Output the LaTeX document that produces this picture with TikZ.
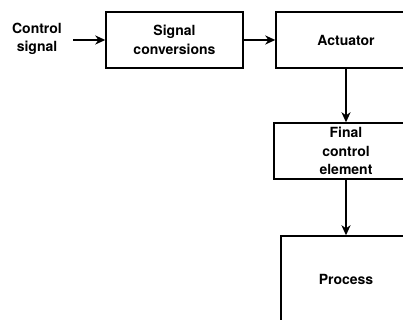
\documentclass[tikz,border=0pt]{standalone}
\usepackage{fontspec}
\setmainfont{TeX Gyre Heros}
\usetikzlibrary{arrows.meta, positioning}

\begin{document}
\begin{tikzpicture}[x=1pt, y=1pt,
  blockbox/.style={draw, line width=1.4pt, inner sep=0pt, align=center,
    font=\fontsize{14}{18.5}\selectfont\bfseries},
  flow/.style={line width=1.7pt, -{Stealth[length=10pt, width=9pt, inset=3pt]}}]
\useasboundingbox (0,0) rectangle (403,320);
\clip (0,0) rectangle (403,320);
% input
\node[align=center, font=\fontsize{14}{18}\selectfont\bfseries] (ctrl) at (37,281) {Control\\signal};
% blocks
\node[blockbox, minimum width=137pt, minimum height=56pt] (conv) at (174.5,280) {Signal\\conversions};
\node[blockbox, minimum width=140pt, minimum height=56pt] (act) at (346,280) {Actuator};
\node[blockbox, minimum width=144pt, minimum height=56pt] (fce) at (346,169) {Final\\control\\element};
\node[blockbox, minimum width=130pt, minimum height=86pt] (proc) at (346,41) {Process};
% connectors
\draw[flow] (ctrl.east |- conv.west) ++(8,0) coordinate (in) -- (conv.west);
\draw[flow] (conv.east) -- (act.west);
\draw[flow] (act.south) -- (fce.north);
\draw[flow] (fce.south) -- (proc.north);
\end{tikzpicture}
\end{document}
